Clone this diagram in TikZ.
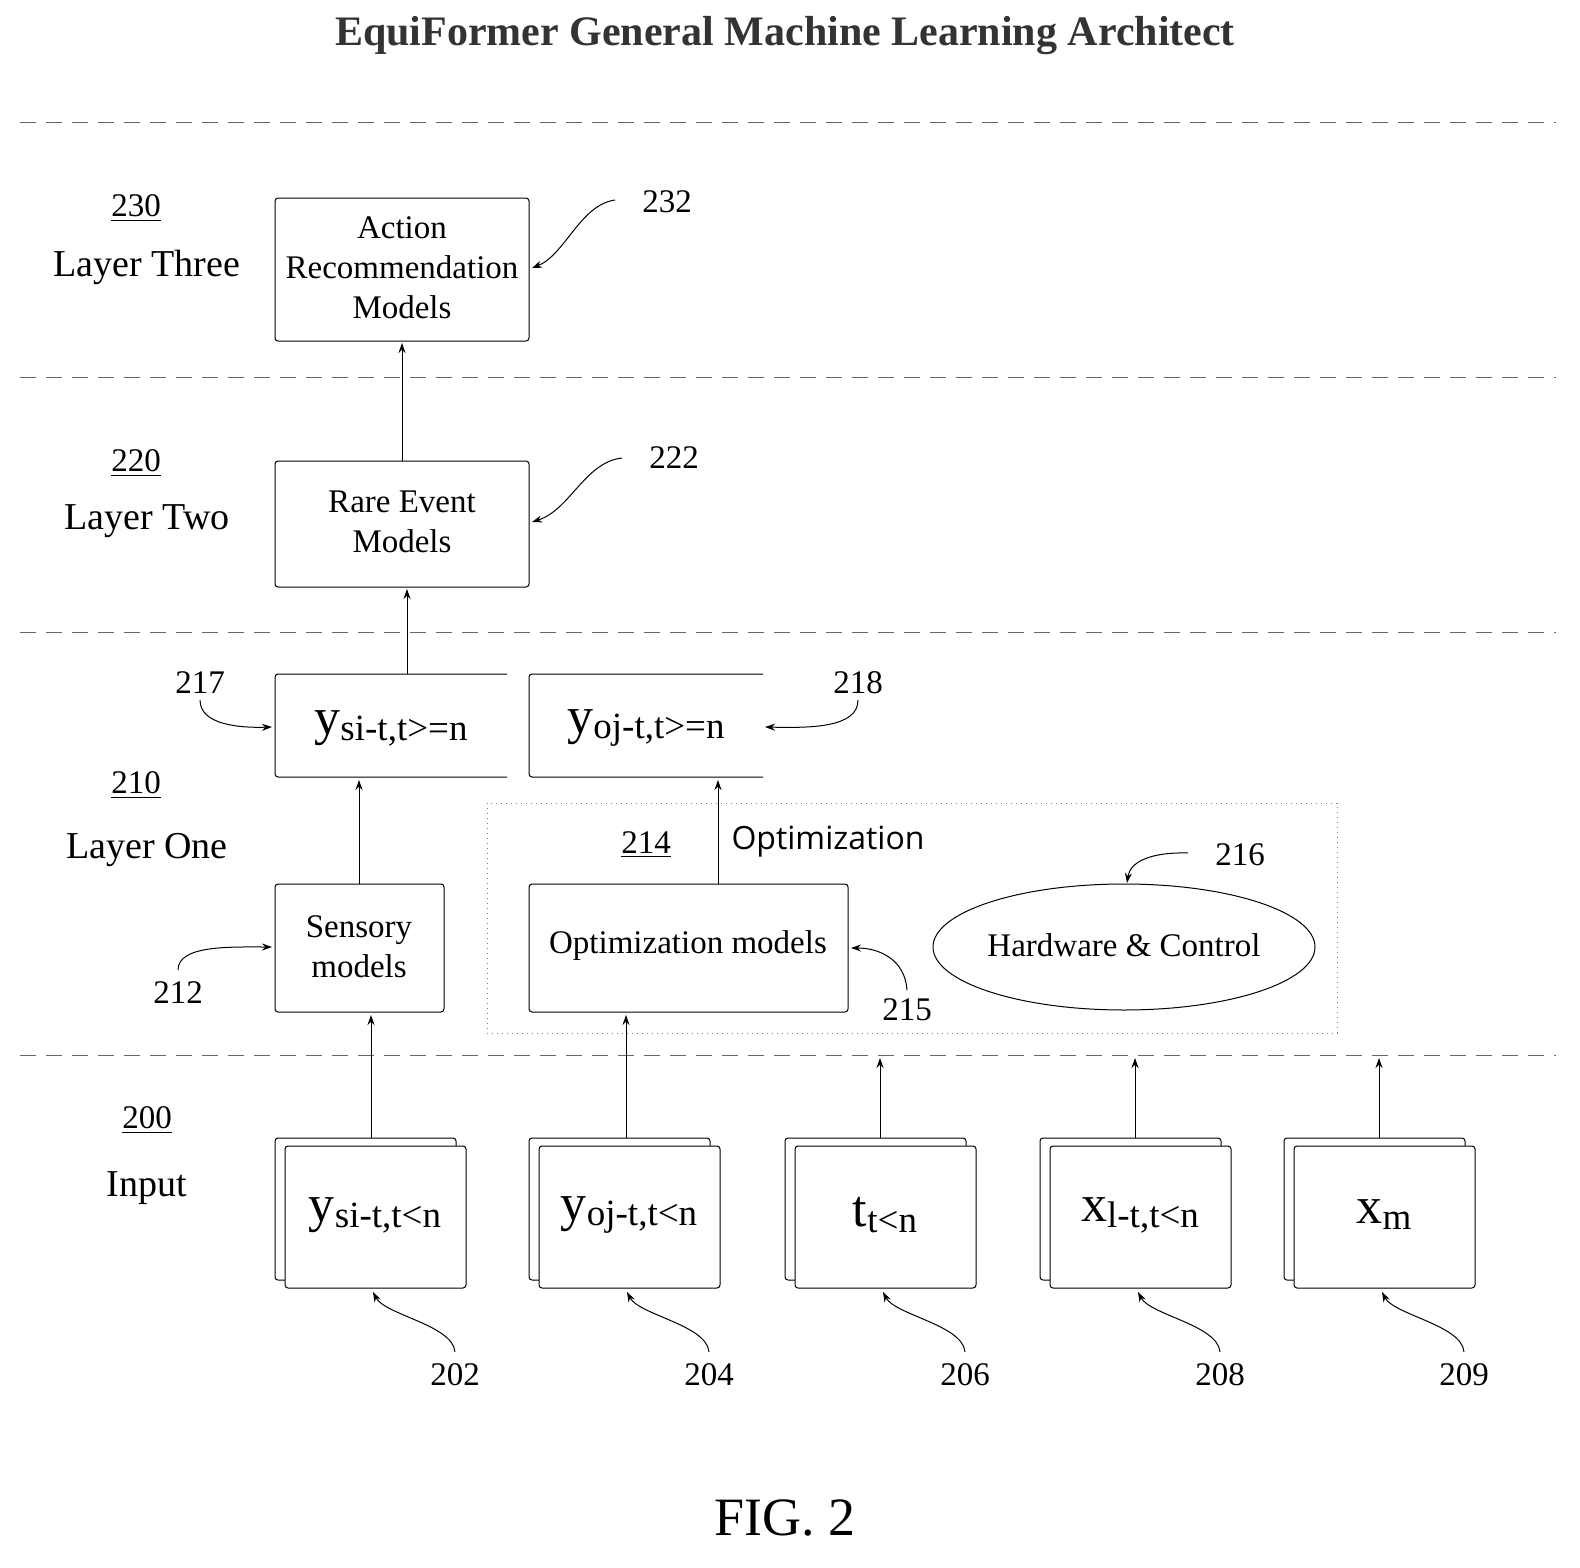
\documentclass[tikz,border=0pt]{standalone}
\usepackage{fontspec}
\setmainfont{Liberation Serif}
\newfontfamily\optfont{Open Sans}
\usetikzlibrary{arrows.meta}
\begin{document}
\begin{tikzpicture}[x=0.5pt,y=-0.5pt,
  box/.style={draw,rounded corners=1.5pt,line width=0.5pt},
  lbl/.style={font=\fontsize{16.5}{20}\selectfont},
  num/.style={font=\fontsize{16.5}{16.5}\selectfont},
  lay/.style={font=\fontsize{19}{19}\selectfont},
  arr/.style={-{Stealth[length=5pt,width=3.5pt]},line width=0.5pt},
  sep/.style={dashed,dash pattern=on 8pt off 5pt,line width=0.4pt,gray!80!black}]
\useasboundingbox (0,0) rectangle (1580,1568);
\node[font=\bfseries\fontsize{21}{21}\selectfont,text=black!80] (title) at (785,36) {EquiFormer General Machine Learning Architect};
\foreach \yy in {122,377,632,1055} \draw[sep] (20,\yy) -- (1556,\yy);
% layer labels
\node[num] (n230) at (136,208) {\underline{230}};
\node[lay] (l3) at (147,267) {Layer Three};
\node[num] (n220) at (136,463) {\underline{220}};
\node[lay] (l2) at (147,521) {Layer Two};
\node[num] (n210) at (136,785) {\underline{210}};
\node[lay] (l1) at (147,850) {Layer One};
\node[num] (n200) at (147,1120) {\underline{200}};
\node[lay] (l0) at (147,1188) {Input};
% layer three
\draw[box] (275,198) rectangle (529,341);
\node[lbl,align=center] (act) at (402,268) {Action\\Recommendation\\Models};
\coordinate (actB) at (402,343);
\node[num] (n232) at (667,202) {232};
\coordinate (c232) at (615,200);
\coordinate (t232) at (532,268);
\draw[arr] (c232) .. controls (580,205) and (565,255) .. (t232);
% layer two
\draw[box] (275,461) rectangle (529,587);
\node[lbl,align=center] (rare) at (402,522) {Rare Event\\Models};
\node[num] (n222) at (674,458) {222};
\coordinate (c222) at (622,458);
\coordinate (t222) at (532,522);
\draw[arr] (c222) .. controls (585,462) and (570,510) .. (t222);
\coordinate (rareT) at (402,461);
\coordinate (rareB) at (407,589);
\draw[arr] (rareT) -- (actB);
% layer one outputs
\draw[line width=0.5pt,rounded corners=1.5pt] (507,674) -- (275,674) -- (275,777) -- (507,777);
\draw[line width=0.5pt,rounded corners=1.5pt] (763,674) -- (529,674) -- (529,777) -- (763,777);
\node (ys) at (391,728) {\fontsize{26}{26}\selectfont y\raisebox{-0.25ex}{\fontsize{18.5}{18.5}\selectfont si-t,t>=n}};
\node (yo) at (646,728) {\fontsize{26}{26}\selectfont y\raisebox{-0.25ex}{\fontsize{18.5}{18.5}\selectfont oj-t,t>=n}};
\coordinate (ysT) at (407,674);
\draw[arr] (ysT) -- (rareB);
\node[num] (n217) at (200,683) {217};
\draw[arr] (200,700) .. controls (200,725) and (240,728) .. (272,727);
\node[num] (n218) at (858,683) {218};
\draw[arr] (858,700) .. controls (858,728) and (810,728) .. (765,727);
% sensory
\draw[box] (275,884) rectangle (444,1012);
\node[lbl,align=center] (sens) at (359,947) {Sensory\\models};
\draw[arr] (359,884) -- (359,780);
\node[num] (n212) at (178,993) {212};
\draw[arr] (178,970) .. controls (178,945) and (230,947) .. (272,947);
% optimization region
\draw[dotted,line width=0.5pt,gray] (487,803) rectangle (1337,1033);
\node[num] (n214) at (646,845) {\underline{214}};
\node[font=\optfont\fontsize{16}{16}\selectfont] (optl) at (828,842) {Optimization};
\draw[box] (529,884) rectangle (848,1012);
\node[lbl] (opt) at (688,946) {Optimization models};
\draw[arr] (718,884) -- (718,780);
\node[num] (n215) at (907,1010) {215};
\draw[arr] (907,990) .. controls (905,960) and (880,948) .. (851,948);
\draw[line width=0.5pt] (1124,947) ellipse [x radius=191, y radius=63];
\node[lbl] (hw) at (1124,945) {Hardware \& Control};
\node[num] (n216) at (1240,855) {216};
\draw[arr] (1188,853) .. controls (1150,852) and (1130,862) .. (1127,883);
% inputs
\foreach \x/\lab/\n/\ax/\top in {
  275/{y\raisebox{-0.25ex}{\fontsize{18.5}{18.5}\selectfont si-t,t<n}}/202/371/1015,
  529/{y\raisebox{-0.25ex}{\fontsize{18.5}{18.5}\selectfont oj-t,t<n}}/204/626/1015,
  785/{t\raisebox{-0.25ex}{\fontsize{18.5}{18.5}\selectfont t<n}}/206/880/1058,
  1040/{x\raisebox{-0.25ex}{\fontsize{18.5}{18.5}\selectfont l-t,t<n}}/208/1135/1058,
  1284/{x\raisebox{-0.25ex}{\fontsize{18.5}{18.5}\selectfont m}}/209/1379/1058} {
  \draw[box] (\x,1138) rectangle ++(181,142);
  \draw[box,fill=white] (\x+10,1146) rectangle ++(181,142);
  \node (in\n) at (\x+100,1215) {\fontsize{26}{26}\selectfont \lab};
  \draw[arr] (\ax,1138) -- (\ax,\top);
  \node[num] (n\n) at (\x+180,1375) {\n};
  \draw[arr] (\x+180,1352) .. controls (\x+178,1325) and (\x+110,1315) .. (\x+98,1292);
}
\node[font=\fontsize{27}{27}\selectfont] (fig) at (785,1518) {FIG. 2};
\end{tikzpicture}
\end{document}
